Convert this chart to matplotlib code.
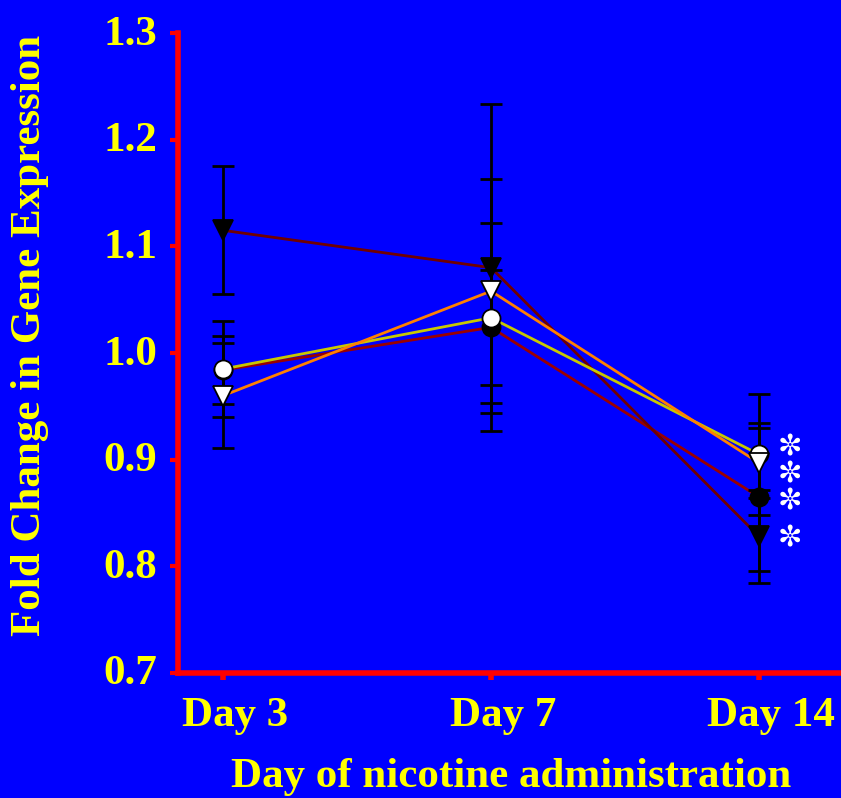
import matplotlib.pyplot as plt
import matplotlib.transforms as mtransforms

days = ["Day 3", "Day 7", "Day 14"]

# fold change (mean) and error for each marker series
open_circle = [0.985, 1.033, 0.905]
open_circle_err = [0.045, 0.089, 0.057]
filled_circle = [0.984, 1.024, 0.865]
filled_circle_err = [0.032, 0.054, 0.069]
open_tri = [0.960, 1.058, 0.897]
open_tri_err = [0.049, 0.105, 0.033]
filled_tri = [1.115, 1.080, 0.828]
filled_tri_err = [0.060, 0.153, 0.044]

blue = "#0000ff"
yellow = "#ffff00"
red = "#ff0000"

plt.rcParams['font.family'] = ['Liberation Serif', 'DejaVu Sans']
plt.rcParams['font.weight'] = 'bold'

fig = plt.figure(figsize=(8.41, 7.98), dpi=100, facecolor=blue)
ax = fig.add_axes([178 / 841, 125 / 798, 1 - 178 / 841, 640 / 798])
ax.set_facecolor(blue)

x = list(range(len(days)))

series = [
    (filled_circle, filled_circle_err, "o", "black", "#9a0000"),
    (filled_tri, filled_tri_err, "v", "black", "#700000"),
    (open_circle, open_circle_err, "o", "white", "#c8c800"),
    (open_tri, open_tri_err, "v", "white", "#ff8000"),
]
for i, (vals, err, mk, face, lc) in enumerate(series):
    ax.plot(x, vals, color=lc, lw=2, zorder=2 + i)
    ax.errorbar(x, vals, yerr=err, fmt="none", ecolor="black", elinewidth=2,
                capsize=8, capthick=2, zorder=6)
    ax.plot(x, vals, ls="none", marker=mk, markersize=15 if mk == "v" else 13,
            markerfacecolor=face, markeredgecolor="black", markeredgewidth=1.3,
            zorder=7 + i)

# significance marks at Day 14
for vals, dy in [(open_circle, 0.006), (open_tri, -0.011),
                 (filled_circle, -0.004), (filled_tri, -0.002)]:
    ax.text(2.115, vals[2] + dy, "\u273c", color="white", fontsize=21,
            family="DejaVu Sans", ha="center", va="center", zorder=10)

ax.set_xlim(-0.168, 2.306)
ax.set_ylim(0.7, 1.3)
ax.set_xticks(x)
ax.set_xticklabels(days)
ax.set_yticks([0.7, 0.8, 0.9, 1.0, 1.1, 1.2, 1.3])
ax.set_yticklabels(["0.7", "0.8", "0.9", "1.0", "1.1", "1.2", "1.3"])

for side in ["top", "right"]:
    ax.spines[side].set_visible(False)
for side in ["left", "bottom"]:
    ax.spines[side].set_color(red)
    ax.spines[side].set_linewidth(4)

ax.tick_params(axis="y", colors=red, labelcolor=yellow, labelsize=31,
               direction="out", length=6, width=3, pad=9)
ax.tick_params(axis="x", colors=red, labelcolor=yellow, labelsize=31,
               direction="out", length=5, width=4, pad=12)

shift_x = mtransforms.ScaledTranslation(12 / 100, 0, fig.dpi_scale_trans)
shift_y = mtransforms.ScaledTranslation(0, 3 / 100, fig.dpi_scale_trans)
for lab in ax.get_xticklabels():
    lab.set_fontweight("bold")
    lab.set_transform(lab.get_transform() + shift_x)
for lab in ax.get_yticklabels():
    lab.set_fontweight("bold")
    lab.set_transform(lab.get_transform() + shift_y)

fig.text(30 / 841, 1 - 335 / 798, "Fold Change in Gene Expression", color=yellow,
         fontsize=31, fontweight="bold", rotation=90, ha="center", va="center")
fig.text(511 / 841, 1 - 777 / 798, "Day of nicotine administration", color=yellow,
         fontsize=31, fontweight="bold", ha="center", va="center")

fig.savefig("out.png", dpi=100, facecolor=blue)
